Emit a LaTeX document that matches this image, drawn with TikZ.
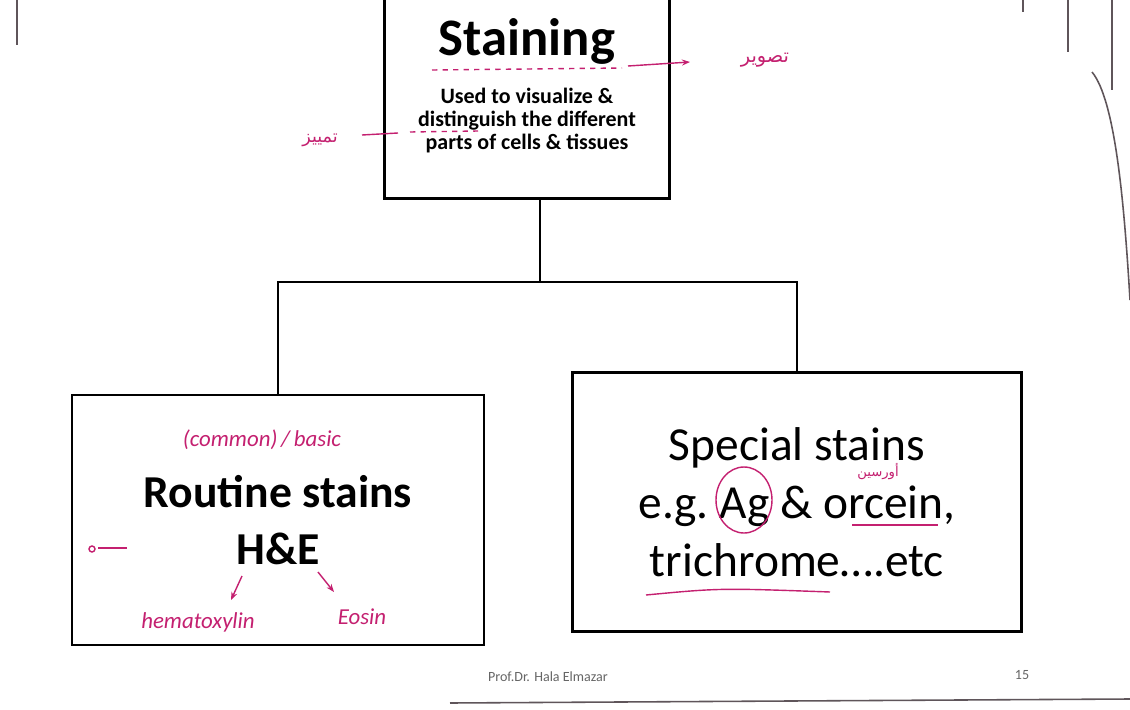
\documentclass[tikz,border=0pt]{standalone}
\usepackage{fontspec}
\setmainfont{Carlito}
\newfontfamily\arabicfont[Script=Arabic]{DejaVu Sans}
\TeXXeTstate=1
\usepackage{xcolor}
\usetikzlibrary{arrows.meta,positioning,calc}
\definecolor{pen}{RGB}{196,32,112}
\definecolor{edge}{RGB}{95,85,90}

\begin{document}
\begin{tikzpicture}[
  x=0.02cm,y=-0.02cm,
  box/.style={draw,line width=1.6pt,align=center,inner sep=0pt},
  link/.style={line width=1.6pt},
  note/.style={text=pen,font=\itshape\fontsize{13}{15}\selectfont,inner sep=1pt},
  ink/.style={draw=pen,line width=0.8pt},
  photo/.style={draw=edge,line width=0.9pt},
  >={Stealth[length=1.6mm]}
]
\clip (0,0) rectangle (1130,710);
\fill[white] (0,0) rectangle (1130,710);
% boxes
\node[box,minimum width=5.7cm,minimum height=4.5cm,
  font=\bfseries\fontsize{12.5}{13.2}\selectfont] (top) at (527,86)
  {{\fontsize{30}{34}\selectfont Staining}\\[12pt]
   Used to visualize \&\\ distinguish the different\\ parts of cells \& tissues};
\node[box,minimum width=8.24cm,minimum height=5cm,
  font=\bfseries\fontsize{26}{32}\selectfont] (routine) at (278,520)
  {Routine stains\\ H\&E};
\node[box,minimum width=8.98cm,minimum height=5.18cm,
  font=\fontsize{27}{33}\selectfont] (special) at (797,502)
  {Special stains\\ e.g.\ Ag \& orcein,\\ trichrome\dots.etc};
% tree
\coordinate (split) at (540,282);
\draw[link] (top.south -| split) -- (split);
\draw[link] (routine.north) |- (split) -| (special.north);
% handwritten notes
\node[note] (common) at (262,440) {(common)\,/\,basic};
\node[note] (hema) at (198,622) {hematoxylin};
\node[note] (eosin) at (362,617) {Eosin};
\draw[ink,->] (242,576) -- (231,600);
\draw[ink,->] (318,572) -- (334,592);
\draw[ink] (98,548) -- (127,548);
\draw[ink] (92,549) circle (3);
\draw[ink,dashed] (432,70) -- (622,68);
\draw[ink,->] (628,66) -- (690,62);
\node[note,font=\arabicfont\fontsize{11}{13}\selectfont] (visAr) at (765,60) {\beginR تصوير\endR};
\draw[ink,dashed] (410,132) -- (478,131);
\draw[ink] (362,135) -- (398,133);
\node[note,font=\arabicfont\fontsize{10}{12}\selectfont] (distAr) at (320,140) {\beginR تمييز\endR};
\draw[ink] (744,500) ellipse (28 and 33);
\draw[ink] (852,525) -- (938,525);
\node[note,font=\arabicfont\fontsize{7.5}{9}\selectfont] (orcAr) at (878,472) {\beginR أورسين\endR};
\draw[ink] (646,595) .. controls (720,588) .. (830,592);
% footer
\node[text=black!60,font=\fontsize{8}{10}\selectfont] (author) at (548,677) {Prof.Dr. Hala Elmazar};
\node[text=black!60,font=\fontsize{8}{10}\selectfont] (page) at (1022,675) {15};
% page edges of the photo
\draw[photo] (17,0) -- (17,45);
\draw[photo] (1023,0) -- (1023,12);
\draw[photo] (1068,0) -- (1068,52);
\draw[photo] (1112,0) -- (1112,90);
\draw[photo] (1092,72) .. controls (1115,100) and (1124,200) .. (1130,300);
\draw[photo] (450,703) -- (1130,699);
\end{tikzpicture}
\end{document}
